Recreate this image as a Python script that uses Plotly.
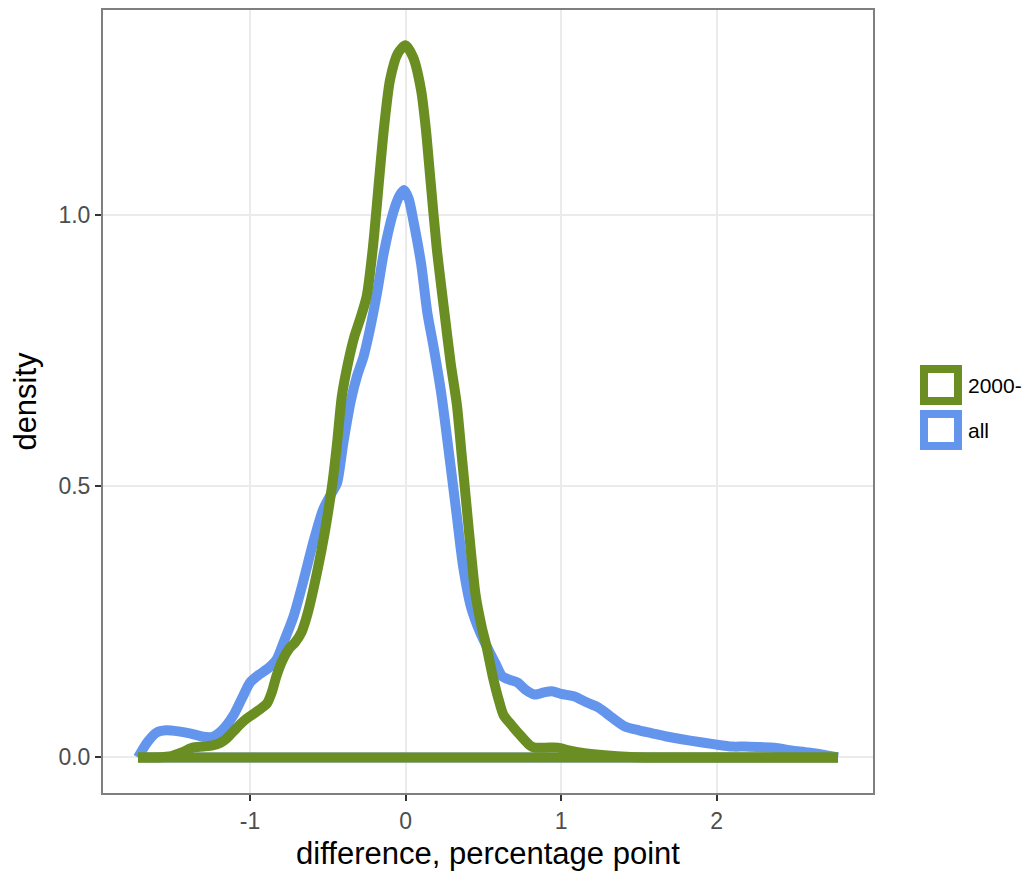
import plotly.graph_objects as go

# ---- data ----
all_x = [-1.72, -1.66, -1.60, -1.54, -1.46, -1.38, -1.30, -1.24, -1.18, -1.11, -1.05, -1.00,
         -0.94, -0.88, -0.83, -0.78, -0.72, -0.66, -0.59, -0.53, -0.47, -0.44, -0.40, -0.35,
         -0.31, -0.27, -0.23, -0.18, -0.14, -0.08, -0.04, -0.01, 0.02, 0.05, 0.10, 0.14,
         0.18, 0.23, 0.29, 0.33, 0.37, 0.42, 0.48, 0.53, 0.58, 0.62, 0.67, 0.72, 0.77,
         0.83, 0.89, 0.94, 1.00, 1.09, 1.16, 1.24, 1.32, 1.41, 1.50, 1.58, 1.67, 1.83,
         1.99, 2.10, 2.18, 2.28, 2.37, 2.48, 2.59, 2.70, 2.78]
all_y = [0.0, 0.028, 0.046, 0.050, 0.048, 0.044, 0.038, 0.038, 0.050, 0.076, 0.110, 0.138,
         0.153, 0.165, 0.180, 0.215, 0.260, 0.322, 0.400, 0.457, 0.490, 0.506, 0.580, 0.660,
         0.705, 0.739, 0.788, 0.862, 0.930, 1.004, 1.035, 1.046, 1.030, 0.990, 0.910, 0.820,
         0.757, 0.670, 0.536, 0.444, 0.352, 0.278, 0.230, 0.200, 0.172, 0.150, 0.143, 0.138, 0.125,
         0.116, 0.120, 0.122, 0.117, 0.112, 0.102, 0.092, 0.075, 0.057, 0.050, 0.045, 0.039, 0.031,
         0.024, 0.020, 0.020, 0.019, 0.018, 0.013, 0.009, 0.004, 0.0]

recent_x = [-1.72, -1.60, -1.50, -1.43, -1.37, -1.30, -1.24, -1.19, -1.15, -1.10, -1.06, -1.02,
            -0.98, -0.93, -0.89, -0.86, -0.83, -0.79, -0.75, -0.71, -0.67, -0.63, -0.57, -0.52,
            -0.47, -0.44, -0.41, -0.37, -0.33, -0.29, -0.25, -0.21, -0.17, -0.14, -0.10, -0.05,
            0.00, 0.05, 0.10, 0.13, 0.16, 0.20, 0.25, 0.29, 0.33, 0.36, 0.39, 0.42, 0.45, 0.49,
            0.52, 0.56, 0.60, 0.63, 0.68, 0.74, 0.80, 0.83, 0.90, 0.98, 1.05, 1.15, 1.28, 1.45,
            1.60, 2.78]
recent_y = [0.0, 0.0, 0.003, 0.010, 0.018, 0.020, 0.022, 0.027, 0.035, 0.050, 0.062, 0.072,
            0.080, 0.090, 0.100, 0.120, 0.150, 0.180, 0.200, 0.212, 0.230, 0.265, 0.340, 0.414,
            0.506, 0.580, 0.665, 0.727, 0.775, 0.810, 0.850, 0.940, 1.065, 1.157, 1.249, 1.298,
            1.313, 1.290, 1.230, 1.160, 1.065, 0.940, 0.820, 0.727, 0.650, 0.560, 0.470, 0.380, 0.300, 0.240,
            0.205, 0.150, 0.105, 0.078, 0.060, 0.040, 0.022, 0.018, 0.018, 0.018, 0.013, 0.008, 0.004, 0.001,
            0.0, 0.0]

series_names = ["2000-", "all"]
series_colors = ["#6B8E23", "#6495ED"]
x_ticks = [-1, 0, 1, 2]
x_tick_labels = ["-1", "0", "1", "2"]
y_ticks = [0.0, 0.5, 1.0]
y_tick_labels = ["0.0", "0.5", "1.0"]

FONT = "Liberation Sans, Arial, sans-serif"
OFF = 8                      # default page margin of the html body
W, H = 1035 - OFF, 874 - OFF
L, R, T, B = 103 - OFF, 162, 10 - OFF, 81
LW = 10

fig = go.Figure()
for name, xs, ys, col in [("all", all_x, all_y, series_colors[1]),
                          ("2000-", recent_x, recent_y, series_colors[0])]:
    # density outline
    fig.add_trace(go.Scatter(x=xs, y=ys, mode="lines", name=name,
                             line=dict(color=col, width=LW, shape="spline", smoothing=0.7),
                             showlegend=False))
    # baseline closing the density polygon
    fig.add_trace(go.Scatter(x=[xs[0], xs[-1]], y=[0.0, 0.0], mode="lines", name=name,
                             line=dict(color=col, width=LW), showlegend=False,
                             hoverinfo="skip"))

pw, ph = W - L - R, H - T - B


def px2x(p):
    return (p - OFF - L) / pw


def px2y(p):
    return (H - B - (p - OFF)) / ph


shapes = []
annotations = []
box_top = [369, 414]
for i, (name, col) in enumerate(zip(series_names, series_colors)):
    y0 = box_top[i]
    shapes.append(dict(type="rect", xref="paper", yref="paper",
                       x0=px2x(924), x1=px2x(958), y0=px2y(y0 + 32), y1=px2y(y0),
                       line=dict(color=col, width=8), fillcolor="white"))
    annotations.append(dict(xref="paper", yref="paper", x=px2x(966), y=px2y(y0 + 16),
                            text=name, showarrow=False, xanchor="left", yanchor="middle",
                            font=dict(family=FONT, size=21, color="black")))

axis_common = dict(showgrid=True, gridcolor="#EBEBEB", gridwidth=1.5, zeroline=False,
                   showline=True, mirror=True, linecolor="#7F7F7F", linewidth=2,
                   ticks="outside", ticklen=6, tickwidth=1.5, tickcolor="#333333",
                   tickfont=dict(family=FONT, size=23, color="#4D4D4D"),
                   automargin=False)

fig.update_layout(
    width=W, height=H,
    margin=dict(l=L, r=R, t=T, b=B),
    paper_bgcolor="white", plot_bgcolor="white",
    font=dict(family=FONT),
    xaxis=dict(range=[-1.945, 3.005], tickvals=x_ticks, ticktext=x_tick_labels,
               title=dict(text="difference, percentage point", standoff=10,
                          font=dict(family=FONT, size=31, color="black")),
               **axis_common),
    yaxis=dict(range=[-0.0656, 1.378], tickvals=y_ticks, ticktext=y_tick_labels,
               title=dict(text="density", standoff=19,
                          font=dict(family=FONT, size=31, color="black")),
               **axis_common),
    shapes=shapes,
    annotations=annotations,
    showlegend=False,
)

fig.write_html("out.html")
